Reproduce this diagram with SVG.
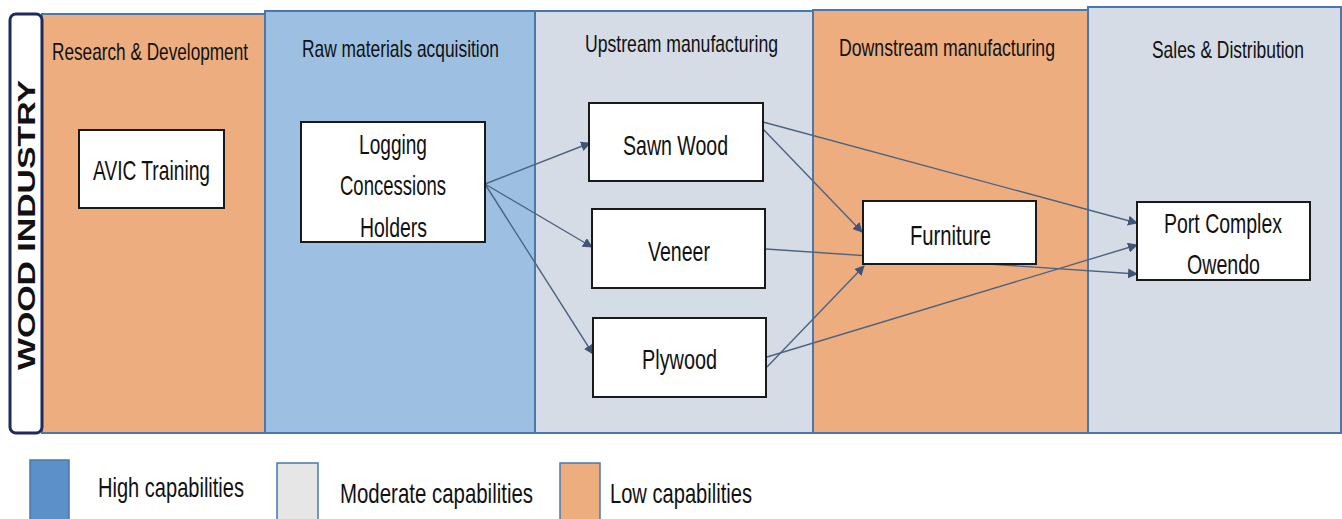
<svg xmlns="http://www.w3.org/2000/svg" width="1342" height="519" viewBox="0 0 1342 519">
<style>
.lane{stroke:#4a78ad;stroke-width:2}
.orange{fill:#EDAD7F}
.blue{fill:#9DC0E2}
.grey{fill:#D5DCE5}
.hdr{font-family:"Liberation Sans Narrow","Liberation Sans",sans-serif;font-size:24px;fill:#111}
.node rect{fill:#fff;stroke:#1a1a1a;stroke-width:2}
.nt{font-family:"Liberation Sans Narrow","Liberation Sans",sans-serif;font-size:28px;fill:#111}
.leg{font-family:"Liberation Sans Narrow","Liberation Sans",sans-serif;font-size:28px;fill:#111}
.conn line{stroke:#4d6382;stroke-width:1.4;marker-end:url(#ah)}
</style>
<defs>
<marker id="ah" viewBox="0 0 10 10" refX="9" refY="5" markerWidth="10" markerHeight="10" markerUnits="userSpaceOnUse" orient="auto">
<path d="M0,0 L10,5 L0,10 z" fill="#3f5577"/>
</marker>
</defs>
<rect width="1342" height="519" fill="#fff"/>
<g id="lanes">
<rect class="lane orange" x="42" y="14" width="223" height="419"/>
<rect class="lane blue" x="265" y="11" width="270" height="422"/>
<rect class="lane grey" x="535" y="11" width="278" height="422"/>
<rect class="lane orange" x="813" y="10" width="275" height="423"/>
<rect class="lane grey" x="1088" y="7" width="253" height="426"/>
<text class="hdr" x="52" y="60" textLength="196" lengthAdjust="spacingAndGlyphs">Research &amp; Development</text>
<text class="hdr" x="302" y="57" textLength="197" lengthAdjust="spacingAndGlyphs">Raw materials acquisition</text>
<text class="hdr" x="585" y="52" textLength="193" lengthAdjust="spacingAndGlyphs">Upstream manufacturing</text>
<text class="hdr" x="839" y="56" textLength="216" lengthAdjust="spacingAndGlyphs">Downstream manufacturing</text>
<text class="hdr" x="1152" y="58" textLength="152" lengthAdjust="spacingAndGlyphs">Sales &amp; Distribution</text>
</g>
<g id="industry-label">
<rect x="10" y="14" width="32" height="419" rx="6" fill="#fff" stroke="#1f2a5c" stroke-width="3"/>
<text x="0" y="0" transform="translate(35,225) rotate(-90)" text-anchor="middle" font-family="'Liberation Sans',sans-serif" font-weight="bold" font-size="24" fill="#111" textLength="290" lengthAdjust="spacingAndGlyphs">WOOD INDUSTRY</text>
</g>
<g class="conn" id="connectors">
<line x1="485" y1="184" x2="590" y2="143"/>
<line x1="485" y1="184" x2="592" y2="247"/>
<line x1="485" y1="184" x2="593" y2="354"/>
<line x1="763" y1="122" x2="1137" y2="223"/>
<line x1="763" y1="129" x2="862" y2="232"/>
<line x1="766" y1="249" x2="1137" y2="274"/>
<line x1="767" y1="367" x2="864" y2="266"/>
<line x1="767" y1="357" x2="1137" y2="245"/>
</g>
<g class="node" id="avic">
<rect x="79" y="130" width="145" height="78"/>
<text class="nt" x="93" y="180" textLength="117" lengthAdjust="spacingAndGlyphs">AVIC Training</text>
</g>
<g class="node" id="logging">
<rect x="301" y="122" width="184" height="120"/>
<text class="nt" x="359" y="154" textLength="68" lengthAdjust="spacingAndGlyphs">Logging</text>
<text class="nt" x="340" y="195" textLength="106" lengthAdjust="spacingAndGlyphs">Concessions</text>
<text class="nt" x="360" y="237" textLength="67" lengthAdjust="spacingAndGlyphs">Holders</text>
</g>
<g class="node" id="sawn">
<rect x="589" y="103" width="174" height="78"/>
<text class="nt" x="623" y="155" textLength="105" lengthAdjust="spacingAndGlyphs">Sawn Wood</text>
</g>
<g class="node" id="veneer">
<rect x="592" y="209" width="173" height="79"/>
<text class="nt" x="648" y="261" textLength="62" lengthAdjust="spacingAndGlyphs">Veneer</text>
</g>
<g class="node" id="plywood">
<rect x="593" y="318" width="173" height="79"/>
<text class="nt" x="642" y="369" textLength="75" lengthAdjust="spacingAndGlyphs">Plywood</text>
</g>
<g class="node" id="furniture">
<rect x="863" y="201" width="173" height="63"/>
<text class="nt" x="910" y="245" textLength="81" lengthAdjust="spacingAndGlyphs">Furniture</text>
</g>
<g class="node" id="port">
<rect x="1137" y="202" width="173" height="78"/>
<text class="nt" x="1164" y="233" textLength="118" lengthAdjust="spacingAndGlyphs">Port Complex</text>
<text class="nt" x="1187" y="274" textLength="73" lengthAdjust="spacingAndGlyphs">Owendo</text>
</g>
<g id="legend">
<rect x="30" y="460" width="39" height="62" fill="#5B91C8" stroke="#4a78ad" stroke-width="1.5"/>
<text class="leg" x="98" y="497" textLength="146" lengthAdjust="spacingAndGlyphs">High capabilities</text>
<rect x="277" y="463" width="41" height="60" fill="#E6E6E6" stroke="#4a78ad" stroke-width="1.5"/>
<text class="leg" x="340" y="503" textLength="193" lengthAdjust="spacingAndGlyphs">Moderate capabilities</text>
<rect x="560" y="463" width="40" height="60" fill="#EDAD7F" stroke="#4a78ad" stroke-width="1.5"/>
<text class="leg" x="610" y="503" textLength="142" lengthAdjust="spacingAndGlyphs">Low capabilities</text>
</g>
</svg>
